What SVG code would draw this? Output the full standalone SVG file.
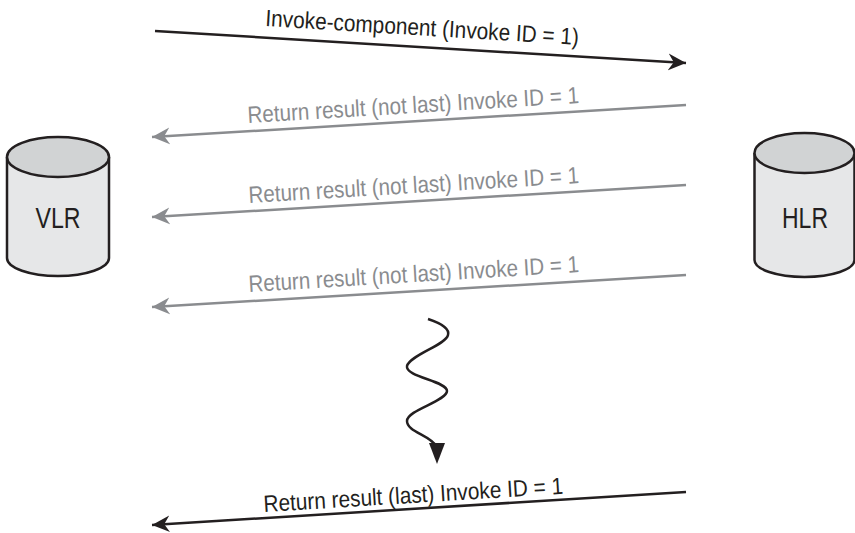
<svg xmlns="http://www.w3.org/2000/svg" width="855" height="533" viewBox="0 0 855 533">
<style>
  .cyl-body { fill: #e6e7e8; stroke: #231f20; stroke-width: 2.5; }
  .cyl-top { fill: #d1d3d4; stroke: #231f20; stroke-width: 2.5; }
  .node-label { font-family: "Liberation Sans Narrow", "Liberation Sans", Arial, sans-serif; font-size: 30px; fill: #231f20; text-anchor: middle; }
  .lbl { font-family: "Liberation Sans Narrow", "Liberation Sans", Arial, sans-serif; font-size: 23.5px; }
  .lbl-black { fill: #231f20; }
  .lbl-gray { fill: #8a8c8f; }
  .line-black { stroke: #231f20; stroke-width: 2.5; fill: none; }
  .line-gray { stroke: #8a8c8f; stroke-width: 2.5; fill: none; }
</style>
<defs>
  <marker id="ah-black" markerUnits="userSpaceOnUse" markerWidth="20" markerHeight="20" viewBox="-16 -9 18 18" refX="0" refY="0" orient="auto">
    <path d="M0,0 L-16,-7.5 L-11,0 L-16,7.5 Z" fill="#231f20"/>
  </marker>
  <marker id="ah-gray" markerUnits="userSpaceOnUse" markerWidth="20" markerHeight="20" viewBox="-16 -9 18 18" refX="0" refY="0" orient="auto">
    <path d="M0,0 L-16,-7.5 L-11,0 L-16,7.5 Z" fill="#8a8c8f"/>
  </marker>
</defs>

<g id="VLR">
  <path class="cyl-body" d="M7,157 L7,258 A51,18 0 0 0 109,258 L109,157"/>
  <ellipse class="cyl-top" cx="58" cy="157" rx="51" ry="20"/>
  <text class="node-label" x="58" y="228" textLength="45" lengthAdjust="spacingAndGlyphs">VLR</text>
</g>

<g id="HLR">
  <path class="cyl-body" d="M754.5,153 L754.5,260 A50,17 0 0 0 854.5,260 L854.5,153"/>
  <ellipse class="cyl-top" cx="804.5" cy="153" rx="50" ry="20"/>
  <text class="node-label" x="805" y="228" textLength="46" lengthAdjust="spacingAndGlyphs">HLR</text>
</g>

<g id="connectors">
  <line class="line-black" x1="155" y1="31" x2="686" y2="63" marker-end="url(#ah-black)"/>
  <text class="lbl lbl-black" x="265" y="26" textLength="314" lengthAdjust="spacingAndGlyphs" transform="rotate(3.45 265 26)">Invoke-component (Invoke ID = 1)</text>

  <line class="line-gray" x1="686" y1="105" x2="152" y2="137" marker-end="url(#ah-gray)"/>
  <text class="lbl lbl-gray" x="248" y="123" textLength="332" lengthAdjust="spacingAndGlyphs" transform="rotate(-3.45 248 123)">Return result (not last) Invoke ID = 1</text>

  <line class="line-gray" x1="686" y1="185" x2="152" y2="217" marker-end="url(#ah-gray)"/>
  <text class="lbl lbl-gray" x="249" y="203" textLength="331" lengthAdjust="spacingAndGlyphs" transform="rotate(-3.45 249 203)">Return result (not last) Invoke ID = 1</text>

  <line class="line-gray" x1="686" y1="275" x2="152" y2="307" marker-end="url(#ah-gray)"/>
  <text class="lbl lbl-gray" x="249" y="292" textLength="331" lengthAdjust="spacingAndGlyphs" transform="rotate(-3.45 249 292)">Return result (not last) Invoke ID = 1</text>

  <path class="line-black" stroke-width="3" d="M428,319 C440,323 450,328 448,335 C446,345 410,355 407,366 C405,377 447,381 447,391 C447,401 407,410 407,421 C407,432 430,435 436,446"/>
  <polygon points="429,443 445,443 437,464" fill="#231f20"/>

  <line class="line-black" x1="686" y1="492" x2="152" y2="525" marker-end="url(#ah-black)"/>
  <text class="lbl lbl-black" x="264" y="512" textLength="300" lengthAdjust="spacingAndGlyphs" transform="rotate(-3.5 264 512)">Return result (last) Invoke ID = 1</text>
</g>
</svg>
